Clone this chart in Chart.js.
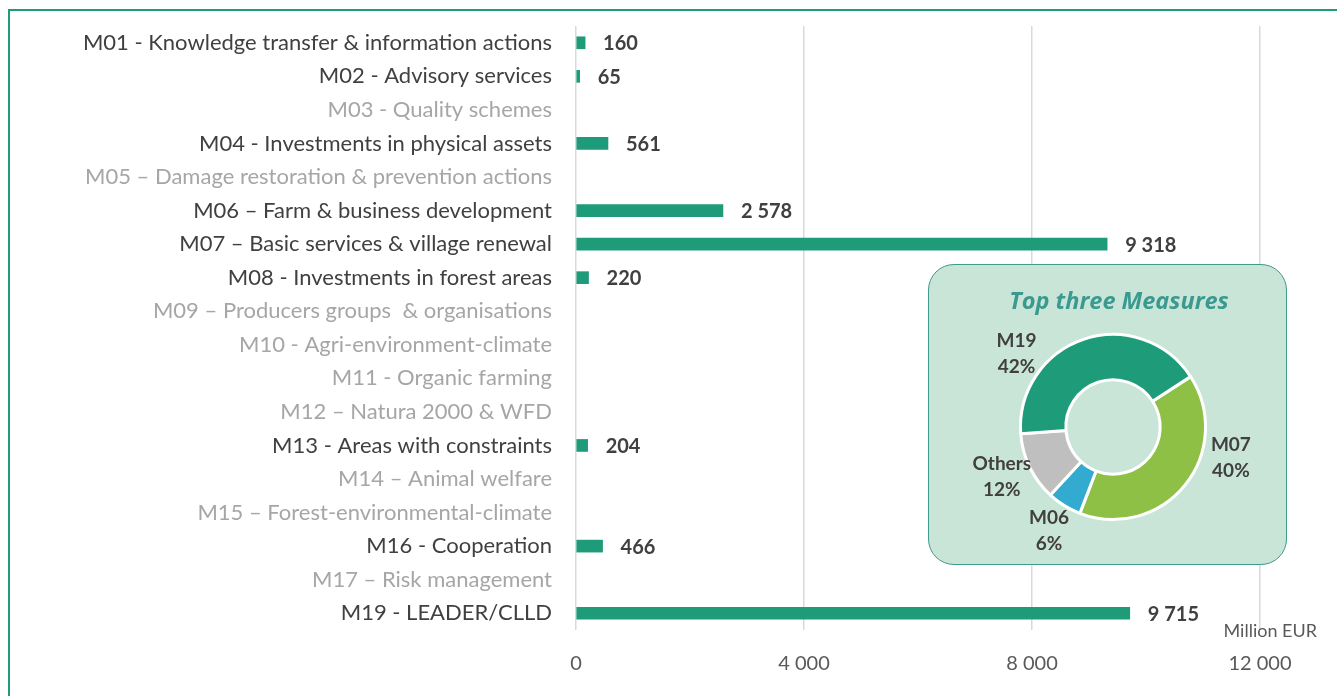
<!DOCTYPE html>
<html>
<head>
<meta charset="utf-8">
<script src="https://cdn.jsdelivr.net/npm/chart.js@4.4.1/dist/chart.umd.min.js"></script>
<style>
    html, body { margin: 0; padding: 0; background: #fff; }
    body { width: 1337px; height: 696px; position: relative; overflow: hidden; }
    #frame { position: absolute; left: 8px; top: 9px; width: 1400px; height: 760px; border: 2px solid #1e9b78; box-sizing: border-box; }
    #mainWrap { position: absolute; left: 0; top: 0; width: 1337px; height: 696px; }
    #insetBox { position: absolute; left: 928px; top: 264px; width: 359px; height: 301px; box-sizing: border-box;
        background: #c9e5d8; border: 1.5px solid #3e9a8c; border-radius: 26px; }
    #insetWrap { position: absolute; left: 928px; top: 264px; width: 359px; height: 301px; }
</style>
</head>
<body>
<div id="frame"></div>
<div id="mainWrap"><canvas id="measuresChart"></canvas></div>
<div id="insetBox"></div>
<div id="insetWrap"><canvas id="topThreeChart"></canvas></div>
<script>
// Các biện pháp và giá trị (triệu EUR)
const measureLabels = [
    'M01 - Knowledge transfer & information actions',
    'M02 - Advisory services',
    'M03 - Quality schemes',
    'M04 - Investments in physical assets',
    'M05 \u2013 Damage restoration & prevention actions',
    'M06 \u2013 Farm & business development',
    'M07 \u2013 Basic services & village renewal',
    'M08 - Investments in forest areas',
    'M09 \u2013 Producers groups  & organisations',
    'M10 - Agri-environment-climate',
    'M11 - Organic farming',
    'M12 \u2013 Natura 2000 & WFD',
    'M13 - Areas with constraints',
    'M14 \u2013 Animal welfare',
    'M15 \u2013 Forest-environmental-climate',
    'M16 - Cooperation',
    'M17 \u2013 Risk management',
    'M19 - LEADER/CLLD'
];
const measureValues = [160, 65, null, 561, null, 2578, 9318, 220, null, null, null, null, 204, null, null, 466, null, 9715];
const axisTicks = [0, 4000, 8000, 12000];

// Biểu đồ tròn: ba biện pháp hàng đầu
const topTitle = 'Top three Measures';
const topLabels = ['M07', 'M06', 'Others', 'M19'];
const topShares = [40, 6, 12, 42];
const topColors = ['#8dc044', '#33abd0', '#bfbfbf', '#1e9b78'];
const topLabelNudge = [-25, 0, 2, -34];

const FONT = 'Lato, "Open Sans", sans-serif';

function fmt(v) {
    return String(v).replace(/\B(?=(\d{3})+(?!\d))/g, ' ');
}

// Nhãn giá trị ở cuối thanh
const barValueLabels = {
    id: 'barValueLabels',
    afterDatasetsDraw(chart) {
        const ctx = chart.ctx;
        const meta = chart.getDatasetMeta(0);
        ctx.save();
        ctx.font = 'bold 20px ' + FONT;
        ctx.fillStyle = '#404040';
        ctx.textBaseline = 'middle';
        ctx.textAlign = 'left';
        meta.data.forEach((bar, i) => {
            const v = measureValues[i];
            if (v === null) return;
            ctx.fillText(fmt(v), bar.x + 18, bar.y + 1);
        });
        // Đơn vị trục
        ctx.font = '18px ' + FONT;
        ctx.fillStyle = '#595959';
        ctx.textAlign = 'right';
        ctx.fillText('Million EUR', chart.chartArea.right + 57, chart.chartArea.bottom + 1);
        ctx.restore();
    }
};

const mainCtx = document.getElementById('measuresChart').getContext('2d');
new Chart(mainCtx, {
    type: 'bar',
    data: {
        labels: measureLabels,
        datasets: [{
            data: measureValues,
            backgroundColor: '#1e9b78',
            barThickness: 12
        }]
    },
    options: {
        indexAxis: 'y',
        responsive: true,
        maintainAspectRatio: false,
        animation: false,
        layout: { padding: { top: 26, right: 77, left: 0, bottom: 0 } },
        plugins: {
            legend: { display: false },
            tooltip: { enabled: false }
        },
        scales: {
            x: {
                min: 0,
                max: 12000,
                afterBuildTicks: (scale) => { scale.ticks = axisTicks.map(v => ({ value: v })); },
                afterFit: (scale) => { scale.height = 66; },
                grid: { color: '#d9d9d9', lineWidth: 1.5, drawTicks: false },
                border: { display: false },
                ticks: {
                    padding: 22,
                    color: '#595959',
                    font: { family: FONT, size: 20 },
                    callback: (v) => fmt(v)
                }
            },
            y: {
                afterFit: (scale) => {
                    scale.width = 576;
                    scale.paddingTop = 0;
                    scale.paddingBottom = 0;
                },
                grid: { display: false, drawTicks: false },
                border: { display: false },
                ticks: {
                    padding: 24,
                    font: { family: FONT, size: 22 },
                    color: (c) => measureValues[c.index] === null ? '#a6a6a6' : '#404040'
                }
            }
        }
    },
    plugins: [barValueLabels]
});

// Tiêu đề và nhãn cho các phần của biểu đồ tròn
const arcLabels = {
    id: 'arcLabels',
    afterDatasetsDraw(chart) {
        const ctx = chart.ctx;
        const meta = chart.getDatasetMeta(0);
        ctx.save();
        ctx.textAlign = 'center';
        ctx.textBaseline = 'middle';
        const first = meta.data[0];
        ctx.font = 'italic bold 23.5px "Open Sans", Lato, sans-serif';
        ctx.fillStyle = '#3a9a8f';
        ctx.fillText(topTitle, first.x + 6, 38);

        ctx.font = 'bold 19px ' + FONT;
        ctx.fillStyle = '#404040';
        meta.data.forEach((arc, i) => {
            const mid = (arc.startAngle + arc.endAngle) / 2 + topLabelNudge[i] * Math.PI / 180;
            const r = arc.outerRadius + 29;
            const x = arc.x + Math.cos(mid) * r;
            const y = arc.y + Math.sin(mid) * r;
            ctx.fillText(topLabels[i], x, y - 12);
            ctx.fillText(topShares[i] + '%', x, y + 14);
        });
        ctx.restore();
    }
};

const topCtx = document.getElementById('topThreeChart').getContext('2d');
new Chart(topCtx, {
    type: 'doughnut',
    data: {
        labels: topLabels,
        datasets: [{
            data: topShares,
            backgroundColor: topColors,
            borderColor: '#ffffff',
            borderWidth: 3
        }]
    },
    options: {
        responsive: true,
        maintainAspectRatio: false,
        animation: false,
        rotation: 57,
        cutout: '51%',
        layout: { padding: { left: 91, right: 80, top: 69, bottom: 44 } },
        plugins: {
            legend: { display: false },
            tooltip: { enabled: false }
        }
    },
    plugins: [arcLabels]
});
</script>
</body>
</html>
